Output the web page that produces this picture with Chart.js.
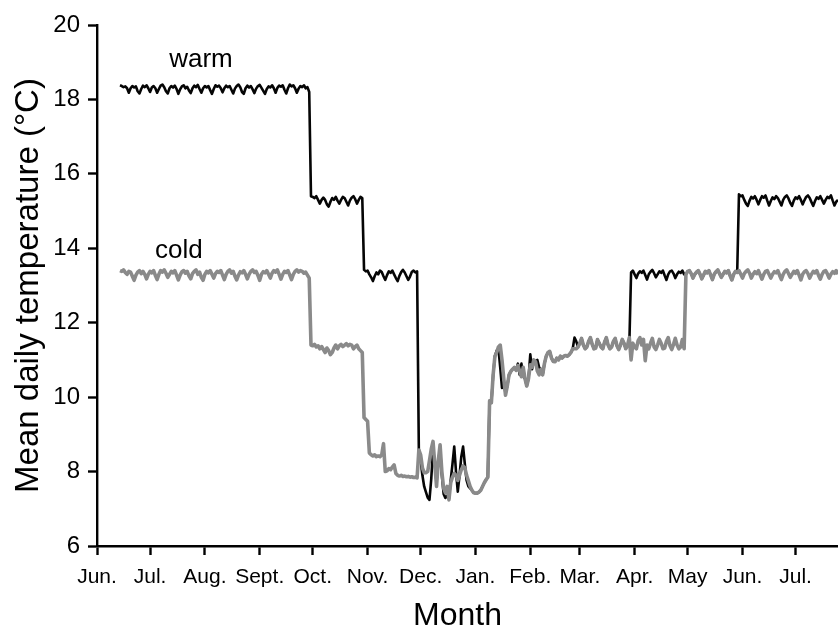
<!DOCTYPE html>
<html><head><meta charset="utf-8">
<script src="https://cdn.jsdelivr.net/npm/chart.js@4"></script>
<style>html,body{margin:0;padding:0;background:#fff}#wrap{width:838px;height:626px}</style>
</head><body><div id="wrap"><canvas id="c" width="838" height="626"></canvas></div>
<script>
// Month tick labels and the day (from 1 June) each month starts on
const monthLabels = ['Jun.','Jul.','Aug.','Sept.','Oct.','Nov.','Dec.','Jan.','Feb.','Mar.','Apr.','May','Jun.','Jul.'];
const monthStartDays = [0,30,61,92,122,153,183,214,245,273,304,334,365,395];
const yTicks = [6,8,10,12,14,16,18,20];
const seriesLabels = ['warm','cold'];
// first day (counted from 1 June) of the daily records
const firstDay = 13;

// Mean daily temperature, warm treatment (one value per day)
const warmTemps = [
18.38,18.36,18.33,18.35,18.3,18.18,18.3,
18.36,18.32,18.35,18.22,18.16,18.28,18.37,
18.33,18.38,18.3,18.2,18.32,18.36,18.3,
18.18,18.28,18.37,18.4,18.33,18.22,18.16,
18.3,18.36,18.32,18.37,18.28,18.15,18.27,
18.35,18.38,18.3,18.34,18.24,18.17,18.3,
18.37,18.33,18.39,18.28,18.18,18.3,18.36,
18.32,18.36,18.25,18.15,18.28,18.38,18.34,
18.37,18.3,18.19,18.3,18.37,18.33,18.36,
18.26,18.16,18.29,18.36,18.4,18.33,18.2,
18.15,18.3,18.37,18.32,18.36,18.27,18.17,
18.29,18.36,18.39,18.31,18.23,18.15,18.28,
18.35,18.32,18.38,18.3,18.18,18.31,18.37,
18.34,18.38,18.26,18.16,18.3,18.4,18.35,
18.38,18.3,18.18,18.29,18.36,18.33,18.38,
18.3,18.33,18.2,
15.4,15.38,15.35,15.4,15.3,15.2,15.3,
15.36,15.3,15.18,15.12,15.25,15.35,15.3,
15.38,15.28,15.2,15.3,15.38,15.35,15.25,
15.15,15.28,15.36,15.4,15.32,15.2,15.3,
15.38,15.35,
13.42,13.38,13.4,13.3,13.22,13.12,13.25,
13.35,13.3,13.4,13.36,13.25,13.15,13.28,
13.38,13.34,13.4,13.3,13.2,13.12,13.26,
13.36,13.42,13.35,13.25,13.15,13.24,13.36,
13.4,13.35,13.38,
8.5,8.3,7.9,7.6,7.45,7.3,7.24,7.8,8.6,8.2,
7.7,8.3,8.6,7.9,7.4,7.29,7.35,7.28,7.76,8.2,
8.67,8.0,7.46,7.9,8.4,8.67,8.2,7.76,7.6,7.55,
7.5,7.43,7.42,7.42,7.45,7.5,7.6,7.7,7.78,7.85,
9.9,9.85,10.6,11.1,11.25,11.3,10.8,10.25,10.4,10.1,
10.3,10.6,10.69,10.75,10.8,10.72,10.9,10.6,10.9,10.55,
10.5,10.3,10.5,11.15,10.75,11.0,10.95,11.0,10.8,10.75,
10.6,10.9,11.1,11.2,11.23,11.05,10.96,10.95,11.05,11.0,
11.1,11.05,11.1,11.12,11.1,11.14,11.2,11.3,11.6,11.5,
11.35,
11.45,11.58,11.4,11.3,11.35,11.5,11.6,11.42,11.3,11.32,
11.55,11.45,11.35,11.3,11.48,11.6,11.4,11.3,11.35,11.5,
11.58,11.38,11.28,11.4,11.55,11.45,11.3,11.4,11.4,
13.35,13.4,13.3,13.2,13.32,13.38,13.34,
13.4,13.28,13.16,13.3,13.37,13.42,13.33,
13.22,13.3,13.38,13.34,13.4,13.27,13.15,
13.3,13.38,13.4,13.32,13.2,13.3,13.37,
13.34,13.4,13.3,
13.3,13.38,13.4,13.32,13.2,13.3,13.36,
13.4,13.3,13.18,13.28,13.38,13.34,13.4,
13.28,13.16,13.3,13.37,13.42,13.32,13.22,
13.3,13.38,13.34,13.4,13.26,13.15,13.3,
13.38,13.35,
15.45,15.4,15.42,15.3,15.2,15.14,15.28,
15.38,15.34,15.4,15.3,15.18,15.3,15.4,
15.36,15.42,15.28,15.15,15.27,15.37,15.32,
15.4,15.35,15.25,15.15,15.3,15.38,15.42,
15.34,15.22,15.14,15.28,15.37,15.33,15.4,
15.3,15.18,15.29,15.38,15.42,15.35,15.24,
15.14,15.27,15.37,15.33,15.4,15.3,15.2,
15.3,15.38,15.35,15.42,15.28,15.15,15.25,
15.3
];

// Mean daily temperature, cold treatment (one value per day)
const coldTemps = [
13.4,13.38,13.42,13.35,13.3,13.38,13.36,
13.25,13.14,13.28,13.36,13.4,13.32,13.38,
13.3,13.18,13.3,13.38,13.34,13.4,13.27,
13.16,13.3,13.4,13.36,13.42,13.33,13.22,
13.3,13.38,13.34,13.4,13.28,13.15,13.28,
13.37,13.4,13.33,13.38,13.26,13.18,13.32,
13.38,13.42,13.3,13.36,13.22,13.14,13.3,
13.38,13.34,13.4,13.3,13.2,13.32,13.38,
13.35,13.4,13.28,13.16,13.3,13.38,13.42,
13.33,13.38,13.25,13.15,13.28,13.37,13.34,
13.4,13.3,13.18,13.3,13.38,13.42,13.35,
13.38,13.27,13.14,13.3,13.37,13.34,13.4,
13.3,13.2,13.33,13.4,13.36,13.42,13.3,
13.17,13.3,13.38,13.35,13.4,13.28,13.16,
13.3,13.38,13.42,13.36,13.4,13.38,13.33,
13.36,13.28,13.2,
11.4,11.38,11.42,11.35,11.38,11.3,11.36,
11.28,11.2,11.32,11.25,11.14,11.2,11.32,
11.4,11.3,11.38,11.42,11.36,11.4,11.44,
11.38,11.42,11.4,11.3,11.36,11.4,11.3,
11.25,11.2,
9.45,9.4,9.35,8.5,8.45,8.42,8.45,8.4,8.42,8.4,
8.45,8.75,8.0,8.02,8.08,8.05,8.12,8.18,7.95,7.9,
7.88,7.9,7.87,7.88,7.86,7.87,7.85,7.86,7.84,7.85,
7.83,
8.58,8.45,8.1,7.97,7.97,8.0,8.3,8.6,8.81,8.2,
7.6,8.3,8.72,8.0,7.55,7.43,7.6,7.24,7.7,7.85,
7.95,7.9,7.76,7.9,8.05,8.15,8.1,7.9,7.75,7.6,
7.5,7.43,7.42,7.42,7.45,7.5,7.6,7.7,7.78,7.85,
9.9,9.85,10.6,11.1,11.2,11.35,11.4,11.0,10.5,10.05,
10.3,10.6,10.69,10.75,10.8,10.72,10.85,10.7,10.55,10.8,
10.5,10.3,10.5,10.87,10.8,11.0,10.95,10.7,10.6,10.75,
10.6,10.9,11.1,11.2,11.23,11.05,10.96,10.95,11.05,11.0,
11.1,11.05,11.1,11.12,11.1,11.14,11.2,11.3,11.3,11.3,
11.35,
11.45,11.58,11.4,11.3,11.35,11.5,11.6,11.42,11.3,11.32,
11.55,11.45,11.35,11.3,11.48,11.6,11.4,11.3,11.35,11.5,
11.58,11.38,11.28,11.4,11.55,11.45,11.3,11.4,11.6,11.0,
11.45,11.35,11.3,11.52,11.6,11.4,11.55,10.98,11.4,11.3,
11.45,11.58,11.35,11.28,11.4,11.55,11.45,11.3,11.32,11.5,
11.6,11.38,11.28,11.42,11.58,11.4,11.3,11.35,11.55,11.3,
13.3,13.38,13.4,13.32,13.2,13.3,13.36,
13.4,13.3,13.18,13.28,13.38,13.34,13.4,
13.28,13.16,13.3,13.37,13.42,13.32,13.22,
13.3,13.38,13.34,13.4,13.26,13.15,13.3,
13.38,13.35,13.4,13.3,13.2,13.32,13.38,
13.42,13.33,13.2,13.3,13.37,13.32,13.4,
13.28,13.17,13.3,13.38,13.4,13.3,13.2,
13.3,13.37,13.34,13.4,13.27,13.16,13.3,
13.38,13.42,13.32,13.22,13.3,13.38,13.33,
13.4,13.28,13.15,13.3,13.37,13.4,13.32,
13.2,13.3,13.38,13.34,13.4,13.27,13.17,
13.3,13.38,13.4,13.31,13.2,13.3,13.37,
13.33,13.4,13.3
];

const toPoints = arr => arr.map((t, i) => ({x: firstDay + i, y: t}));
const FONT = "'Liberation Sans', Arial, Helvetica, sans-serif";
const INK = '#000000';

// Draws the "warm"/"cold" series names and the x-axis title as canvas text
const textPlugin = {
  id: 'chartText',
  afterDatasetsDraw(chart, args, opts) {
    const {ctx, chartArea, scales: {x, y}} = chart;
    ctx.save();
    ctx.fillStyle = INK;
    ctx.textAlign = 'center';
    ctx.textBaseline = 'alphabetic';
    ctx.font = `26px ${FONT}`;
    opts.items.forEach(it => {
      ctx.fillText(it.text, x.getPixelForValue(it.day), y.getPixelForValue(it.temp));
    });
    ctx.font = `32px ${FONT}`;
    ctx.fillText(opts.xTitle, (chartArea.left + chartArea.right) / 2 - 10, chart.height - 1);
    ctx.restore();
  }
};

new Chart(document.getElementById('c'), {
  type: 'line',
  data: {
    datasets: [
      {label: seriesLabels[0], data: toPoints(warmTemps), borderColor: '#050505', borderWidth: 2.6, borderJoinStyle: 'round', pointRadius: 0, fill: false, tension: 0, order: 2},
      {label: seriesLabels[1], data: toPoints(coldTemps), borderColor: '#8a8a8a', borderWidth: 3.6, borderJoinStyle: 'round', pointRadius: 0, fill: false, tension: 0, order: 1}
    ]
  },
  options: {
    responsive: false,
    animation: false,
    devicePixelRatio: 1,
    layout: {padding: {top: 25, left: 0, right: 0, bottom: 0}},
    plugins: {
      legend: {display: false},
      tooltip: {enabled: false},
      chartText: {
        xTitle: 'Month',
        items: [
          {text: seriesLabels[0], day: 58.8, temp: 18.87},
          {text: seriesLabels[1], day: 46.3, temp: 13.75}
        ]
      }
    },
    scales: {
      x: {
        type: 'linear', min: 0, max: 419,
        afterBuildTicks: s => { s.ticks = monthStartDays.map(v => ({value: v})); },
        afterFit: s => { s.height = 80; },
        ticks: {autoSkip: false, maxRotation: 0, minRotation: 0, padding: 10, color: INK,
          font: {family: FONT, size: 21},
          callback: (v, i) => monthLabels[i]},
        grid: {display: true, drawOnChartArea: false, drawTicks: true, tickLength: 9, tickWidth: 2.4, tickColor: INK},
        border: {display: true, color: INK, width: 2.4},
        title: {display: false}
      },
      y: {
        type: 'linear', min: 6, max: 20,
        afterBuildTicks: s => { s.ticks = yTicks.map(v => ({value: v})); },
        afterFit: s => { s.width = 97; },
        ticks: {padding: 8, color: INK, font: {family: FONT, size: 24}},
        grid: {display: true, drawOnChartArea: false, drawTicks: true, tickLength: 9, tickWidth: 2.4, tickColor: INK},
        border: {display: true, color: INK, width: 2.4},
        title: {display: true, text: 'Mean daily temperature (°C)', color: INK, font: {family: FONT, size: 33, lineHeight: 1.2}, padding: {top: 9, bottom: 0}}
      }
    }
  },
  plugins: [textPlugin]
});
</script>
</body></html>
